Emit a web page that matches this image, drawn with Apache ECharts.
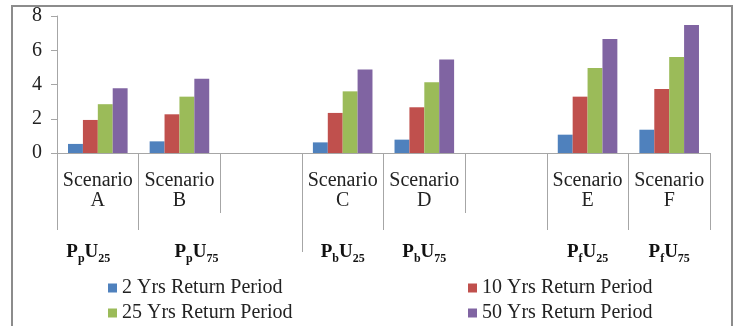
<!DOCTYPE html>
<html>
<head>
<meta charset="utf-8">
<script src="https://cdn.jsdelivr.net/npm/echarts@6/dist/echarts.min.js"></script>
<style>
html, body { margin: 0; padding: 0; background: #fff; }
#chart { width: 736px; height: 326px; }
</style>
</head>
<body>
<div id="chart"></div>
<script>
var categories = ['Scenario\nA', 'Scenario\nB', '', 'Scenario\nC', 'Scenario\nD', '', 'Scenario\nE', 'Scenario\nF'];
// second level labels: P_{sub1} U_{sub2}
var groupSub1 = ['p', 'p', '', 'b', 'b', '', 'f', 'f'];
var groupSub2 = ['25', '75', '', '25', '75', '', '25', '75'];

var seriesNames = ['2 Yrs Return Period', '10 Yrs Return Period', '25 Yrs Return Period', '50 Yrs Return Period'];
var rp2 = [0.53, 0.68, '-', 0.62, 0.78, '-', 1.07, 1.36];
var rp10 = [1.93, 2.26, '-', 2.34, 2.67, '-', 3.29, 3.74];
var rp25 = [2.85, 3.29, '-', 3.60, 4.13, '-', 4.97, 5.61];
var rp50 = [3.78, 4.33, '-', 4.87, 5.46, '-', 6.65, 7.47];

var yMin = 0, yMax = 8, yStep = 2;

var colorList = ['#4F81BD', '#C0504D', '#9BBB59', '#8064A2'];
var serif = "'Liberation Serif', 'DejaVu Serif', serif";
var lineGray = '#a6a6a6';

var myChart = echarts.init(document.getElementById('chart'));

var seriesData = [rp2, rp10, rp25, rp50];
var series = [];
for (var i = 0; i < seriesData.length; i++) {
    series.push({
        name: seriesNames[i],
        type: 'bar',
        xAxisIndex: 0,
        yAxisIndex: 0,
        barGap: '0%',
        barCategoryGap: '27%',
        itemStyle: { color: colorList[i] },
        data: seriesData[i]
    });
}

function makeLegend(names, left) {
    return {
        data: names,
        orient: 'vertical',
        left: left,
        top: 278,
        height: 80,
        padding: 0,
        itemGap: 5,
        itemWidth: 9,
        itemHeight: 9,
        icon: 'rect',
        textStyle: { fontFamily: serif, fontSize: 20, lineHeight: 20, color: '#222' }
    };
}

var option = {
    animation: false,
    backgroundColor: '#fff',
    color: colorList,
    grid: {
        left: 57,
        right: 26,
        top: 16,
        bottom: 173,
        containLabel: false,
        outerBoundsMode: 'none'
    },
    graphic: [{
        type: 'rect',
        shape: { x: 12, y: 6, width: 720, height: 340 },
        style: { fill: 'none', stroke: '#8c8c8c', lineWidth: 2 },
        silent: true
    }],
    legend: [
        makeLegend([seriesNames[0], seriesNames[2]], 108),
        makeLegend([seriesNames[1], seriesNames[3]], 468)
    ],
    xAxis: [{
        type: 'category',
        position: 'bottom',
        offset: 0,
        data: categories,
        axisLine: { show: true, lineStyle: { color: lineGray, width: 1 } },
        axisTick: { show: true, interval: 0, length: 60, lineStyle: { color: lineGray } },
        axisLabel: {
            interval: 0,
            margin: 18,
            fontFamily: serif,
            fontSize: 20,
            lineHeight: 20,
            color: '#222'
        }
    }, {
        type: 'category',
        position: 'bottom',
        offset: 0,
        data: categories,
        axisLine: { show: false },
        axisTick: {
            show: true,
            length: 77,
            interval: function (index) { return categories[index] !== ''; },
            lineStyle: { color: lineGray }
        },
        axisLabel: {
            interval: 0,
            margin: 86,
            formatter: function (value, index) {
                if (!groupSub1[index]) return '';
                var txt = '{m|P}{s|' + groupSub1[index] + '}{m|U}{s|' + groupSub2[index] + '}';
                // first two group labels sit off-centre in the original
                if (index === 0) txt = txt + '{g|}';
                if (index === 1) txt = '{h|}' + txt;
                return txt;
            },
            rich: {
                m: { fontFamily: serif, fontSize: 19, fontWeight: 'bold', color: '#111', lineHeight: 26 },
                s: { fontFamily: serif, fontSize: 12, fontWeight: 'bold', color: '#111', lineHeight: 26, verticalAlign: 'bottom' },
                g: { width: 19 },
                h: { width: 34 }
            }
        }
    }, {
        type: 'value',
        position: 'bottom',
        offset: 0,
        min: 0,
        max: categories.length,
        axisLine: { show: false },
        axisLabel: { show: false },
        splitLine: { show: false },
        axisTick: { show: true, customValues: [3], length: 99, lineStyle: { color: lineGray } }
    }],
    yAxis: [{
        type: 'value',
        min: yMin,
        max: yMax,
        interval: yStep,
        axisLine: { show: true, lineStyle: { color: lineGray } },
        axisTick: { show: true, length: 6, lineStyle: { color: lineGray } },
        splitLine: { show: false },
        axisLabel: {
            margin: 15,
            fontFamily: serif,
            fontSize: 20,
            color: '#222'
        }
    }],
    series: series
};

myChart.setOption(option);
</script>
</body>
</html>
